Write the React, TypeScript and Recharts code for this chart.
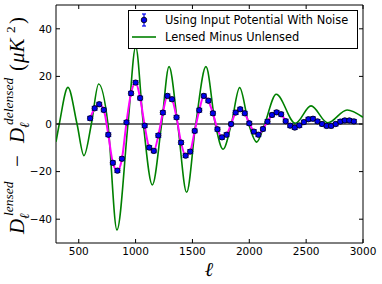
import { ComposedChart, Line, Scatter, XAxis, YAxis, ReferenceLine, ReferenceArea, ErrorBar } from "recharts"

// lensed minus unlensed (green)
const lensL = [300, 329, 405, 485, 546, 611, 675, 757, 836, 933, 1001, 1068, 1147, 1229, 1294, 1370, 1449, 1529, 1619, 1701, 1769, 1842, 1915, 1995, 2065, 2135, 2237, 2405, 2543, 2690, 2860, 3000]
const lensD = [-7.5, 0, 15.4, 0, -13.3, 0, 16.8, 0, -44.5, 0, 32.5, 0, -25.6, 0, 24.1, 0, -28.7, 0, 24.1, 0, -10.6, 0, 15.3, 0, -7.6, 0, 12.5, 0.3, 7.6, 0.5, 5.9, 2.8]

// input potential with noise (blue dots, magenta line)
const noisyL = [600, 640, 680, 720, 760, 800, 840, 880, 920, 960, 1000, 1040, 1080, 1120, 1160, 1200, 1240, 1280, 1320, 1360, 1400, 1440, 1480, 1520, 1560, 1600, 1640, 1680, 1720, 1760, 1800, 1840, 1880, 1920, 1960, 2000, 2040, 2080, 2120, 2160, 2200, 2240, 2280, 2320, 2360, 2400, 2440, 2480, 2520, 2560, 2600, 2640, 2680, 2720, 2760, 2800, 2840, 2880, 2920]
const noisyD = [2.4, 6.6, 8.3, 5.9, -4.5, -16.3, -19.6, -14.6, 0.7, 12.9, 17.4, 10.9, -0.7, -9.9, -11.3, -4.8, 4.8, 11.8, 10.4, 2.8, -7.8, -13.3, -11.6, -2.9, 5.8, 11.8, 9.8, 4.5, -2.2, -5.6, -4.5, 0, 4.8, 6.2, 4.5, 0.3, -3.2, -4.5, -2.1, 1.0, 3.8, 4.9, 4.1, 1.2, -0.7, -1.5, -0.6, 0.8, 2.0, 2.2, 1.1, 0, -0.8, -0.8, 0, 1.0, 1.5, 1.5, 1.1]
const noisyErr = [0.8, 0.8, 0.8, 0.8, 0.8, 0.8, 0.8, 0.8, 0.8, 0.8, 0.8, 0.8, 0.8, 0.8, 0.8, 0.8, 0.8, 0.8, 0.8, 0.8, 0.8, 0.8, 0.8, 0.8, 0.8, 0.8, 0.8, 0.8, 0.8, 0.8, 0.8, 0.8, 0.8, 0.8, 0.8, 0.8, 0.8, 0.8, 0.8, 0.8, 0.8, 0.8, 0.8, 0.8, 0.8, 0.8, 0.8, 0.8, 0.8, 0.8, 0.8, 0.8, 0.8, 0.8, 0.8, 0.8, 0.8, 0.8, 0.8]

const xTicks = [500, 1000, 1500, 2000, 2500, 3000]
const yTicks = [-40, -20, 0, 20, 40]

const lensData = lensL.map((l, i) => ({ l, d: lensD[i] }))
const noisyData = noisyL.map((l, i) => ({ l, d: noisyD[i], err: noisyErr[i] }))

const TOP = 5
const BOTTOM = 243
const LEFT = 56
const RIGHT = 363
const tickFont = "DejaVu Sans, sans-serif"
const mathFont = "Liberation Serif, serif"

const XTick = (props: any) => {
  const { x, payload } = props
  return (
    <g>
      <line x1={x} x2={x} y1={BOTTOM} y2={BOTTOM - 4} stroke="#000" />
      <line x1={x} x2={x} y1={TOP} y2={TOP + 4} stroke="#000" />
      <text x={x} y={255} textAnchor="middle" fontSize={10.5} fontFamily={tickFont} fill="#000">
        {payload.value}
      </text>
    </g>
  )
}

const YTick = (props: any) => {
  const { y, payload } = props
  const v = payload.value
  return (
    <g>
      <line x1={LEFT} x2={LEFT + 4} y1={y} y2={y} stroke="#000" />
      <line x1={RIGHT} x2={RIGHT - 4} y1={y} y2={y} stroke="#000" />
      <text x={52} y={y} dy="0.36em" textAnchor="end" fontSize={10.5} fontFamily={tickFont} fill="#000">
        {v < 0 ? "\u2212" + Math.abs(v) : v}
      </text>
    </g>
  )
}

const Dot = (props: any) => (
  <circle cx={props.cx} cy={props.cy} r={2.7} fill="#0000ee" stroke="#000" strokeWidth={0.8} />
)

function Overlay() {
  return (
    <svg width={382} height={284} style={{ position: "absolute", left: 0, top: 0, pointerEvents: "none" }}>
      {/* y label */}
      <g transform="translate(24,234) rotate(-90)" fontFamily={mathFont} fill="#000">
        <text x={0} y={0} fontSize={21} fontStyle="italic">D</text>
        <text x={18} y={-11} fontSize={13.5} fontStyle="italic">lensed</text>
        <text x={15} y={5} fontSize={13.5} fontStyle="italic">ℓ</text>
        <text x={67} y={0} fontSize={21}>−</text>
        <text x={91} y={0} fontSize={21} fontStyle="italic">D</text>
        <text x={109} y={-11} fontSize={13.5} fontStyle="italic">delensed</text>
        <text x={106} y={5} fontSize={13.5} fontStyle="italic">ℓ</text>
        <text x={163} y={0} fontSize={21}>(</text>
        <text x={171} y={0} fontSize={21} fontStyle="italic">μK</text>
        <text x={201} y={-9} fontSize={13.5}>2</text>
        <text x={210} y={0} fontSize={21}>)</text>
      </g>
      {/* x label */}
      <text x={209} y={276} textAnchor="middle" fontFamily={mathFont} fontStyle="italic" fontSize={20} fill="#000">
        ℓ
      </text>
      {/* legend */}
      <rect x={128.5} y={10.5} width={229} height={38} fill="#fff" stroke="#000" strokeWidth={1} />
      <line x1={144} x2={144} y1={14} y2={26} stroke="#0000ee" strokeWidth={1.2} />
      <line x1={142} x2={146} y1={14} y2={14} stroke="#0000ee" strokeWidth={1.2} />
      <line x1={142} x2={146} y1={26} y2={26} stroke="#0000ee" strokeWidth={1.2} />
      <circle cx={144} cy={20} r={2.8} fill="#0000ee" stroke="#000" strokeWidth={0.8} />
      <text x={165} y={24} fontSize={11.4} fontFamily={tickFont} fill="#000">
        Using Input Potential With Noise
      </text>
      <line x1={132} x2={156} y1={37} y2={37} stroke="#008000" strokeWidth={1.6} />
      <text x={165} y={41} fontSize={11.4} fontFamily={tickFont} fill="#000">
        Lensed Minus Unlensed
      </text>
    </svg>
  )
}

export default function App() {
  return (
    <div style={{ position: "absolute", left: 0, top: 0, width: 382, height: 284, background: "#fff" }}>
      <ComposedChart width={382} height={284} margin={{ top: TOP, right: 382 - RIGHT, left: 0, bottom: 0 }}>
        <XAxis
          dataKey="l"
          type="number"
          domain={[300, 3000]}
          ticks={xTicks}
          allowDataOverflow
          height={284 - BOTTOM}
          axisLine={false}
          tickLine={false}
          tick={<XTick />}
          interval={0}
        />
        <YAxis
          type="number"
          domain={[-50, 50]}
          ticks={yTicks}
          allowDataOverflow
          width={LEFT}
          axisLine={false}
          tickLine={false}
          tick={<YTick />}
          interval={0}
        />
        <ReferenceLine y={0} stroke="#6e6e6e" strokeWidth={1.8} />
        <Line
          data={lensData}
          dataKey="d"
          type="monotone"
          stroke="#008000"
          strokeWidth={1.6}
          dot={false}
          isAnimationActive={false}
        />
        <Line
          data={noisyData}
          dataKey="d"
          type="monotone"
          stroke="#ff00ff"
          strokeWidth={2}
          dot={false}
          isAnimationActive={false}
        />
        <Scatter data={noisyData} dataKey="d" shape={<Dot />} isAnimationActive={false}>
          <ErrorBar dataKey="err" direction="y" width={3} stroke="#0000ee" strokeWidth={1} />
        </Scatter>
        <ReferenceArea x1={300} x2={3000} y1={-50} y2={50} fill="none" stroke="#000" strokeWidth={1} />
      </ComposedChart>
      <Overlay />
    </div>
  )
}
